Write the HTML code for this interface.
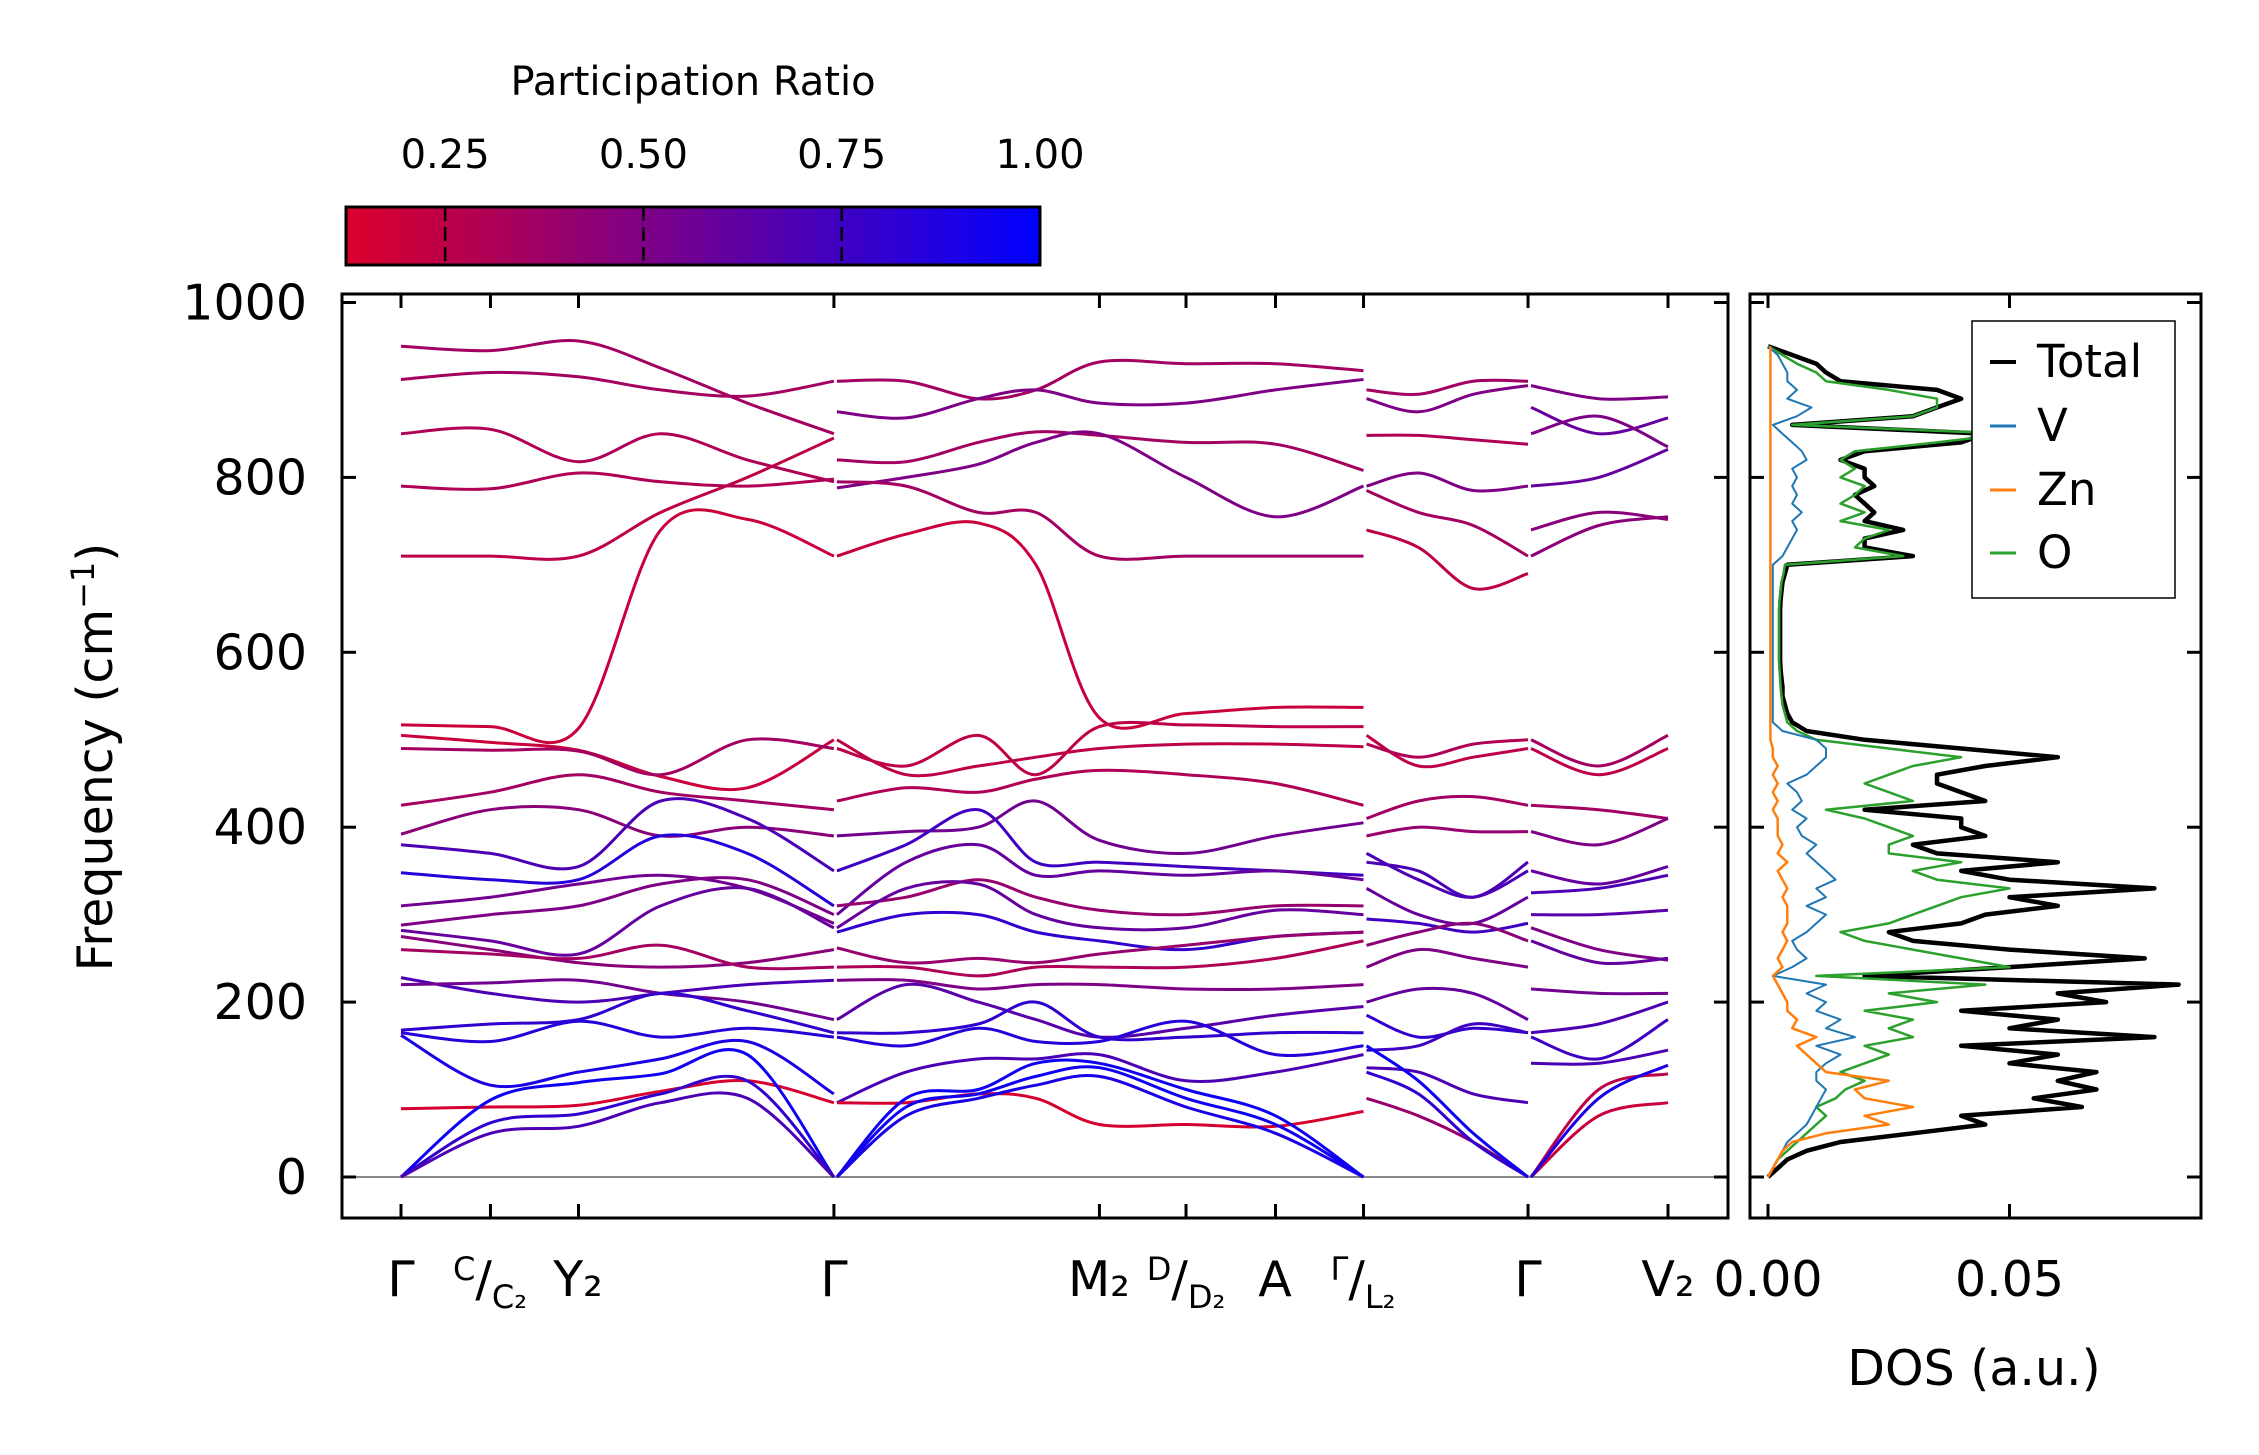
<!DOCTYPE html>
<html><head><meta charset="utf-8">
<style>
html,body{margin:0;padding:0;background:#fff;}
svg{display:block;font-family:"DejaVu Sans","Liberation Sans",sans-serif;}
</style></head>
<body>
<svg id="chart" width="2259" height="1455" viewBox="0 0 2259 1455" xmlns="http://www.w3.org/2000/svg">
<defs>
<linearGradient id="cmap" x1="0" x2="1" y1="0" y2="0">
<stop offset="0" stop-color="rgb(220,0,42)"/>
<stop offset="1" stop-color="rgb(0,0,255)"/>
</linearGradient>
<clipPath id="mainclip"><rect x="342" y="294" width="1386" height="924"/></clipPath>
<clipPath id="dosclip"><rect x="1750" y="294" width="451" height="924"/></clipPath>
</defs>
<g id="colorbar">
<text x="693" y="95" font-size="40" text-anchor="middle">Participation Ratio</text>
<rect x="346" y="207" width="694" height="58" fill="url(#cmap)" stroke="#000" stroke-width="3"/>
</g>
<g id="bands" clip-path="url(#mainclip)"></g>
<g id="dos" clip-path="url(#dosclip)"></g>
<g id="axes"></g>
</svg>
<script>
// ---------- data ----------
const cbTicks = [0.25, 0.50, 0.75, 1.00];
const yTicks = [0, 200, 400, 600, 800, 1000];
const kTicks = [0, 0.62, 1.23, 3.0, 4.84, 5.44, 6.06, 6.67, 7.81, 8.78];
const kSegA = [0, 0.62, 1.23, 1.8, 2.4, 3.0];
const kSegB = [3.0, 3.5, 4.0, 4.4, 4.84, 5.44, 6.06, 6.67];
const kSegC = [6.67, 7.05, 7.43, 7.81];
const kSegD = [7.81, 8.3, 8.78];
const bandsA = [
 [950,945,956,925,885,850],[912,920,915,900,893,910],[850,855,818,850,820,795],
 [790,787,805,795,790,798],[710,710,710,760,800,845],[517,515,513,740,752,710],
 [505,497,488,458,445,500],[490,488,487,460,500,490],[425,440,460,440,430,420],
 [392,420,420,390,400,390],[380,370,355,430,410,350],[348,340,340,390,370,310],
 [310,320,335,345,330,290],[288,300,310,335,340,300],[282,270,255,310,330,285],
 [275,260,245,240,245,260],[260,255,250,265,240,240],[228,210,200,210,220,225],
 [220,222,225,210,200,180],[168,175,180,210,190,165],[165,155,178,160,170,160],
 [162,105,120,135,155,95],[78,80,82,98,110,85],[0,88,108,118,140,0],
 [0,62,72,95,110,0],[0,50,58,85,90,0]
];
const prA = [0.35,0.35,0.3,0.3,0.25,0.2,0.2,0.35,0.35,0.45,0.7,0.85,0.55,0.5,0.6,0.45,0.35,0.7,0.55,0.8,0.85,0.9,0.15,0.95,0.8,0.7];
const bandsB = [
 [910,910,890,900,932,930,930,922],[875,868,890,900,885,885,900,912],
 [820,818,840,852,848,840,838,808],[788,800,815,840,850,800,755,790],
 [795,790,760,760,710,710,710,710],[710,735,748,700,525,530,537,537],
 [490,470,505,460,515,517,515,515],[500,460,470,480,490,495,495,492],
 [430,445,440,455,465,460,450,425],[390,395,400,430,385,370,390,405],
 [350,380,420,360,360,355,350,345],[300,360,380,345,350,345,350,340],
 [310,320,340,320,305,300,310,310],[285,330,335,300,285,285,305,300],
 [280,300,300,280,270,260,275,280],[262,245,250,245,255,265,275,280],
 [240,240,230,240,240,240,250,270],[225,225,215,220,220,215,215,220],
 [180,220,200,180,160,170,185,195],[165,165,175,200,160,160,165,165],
 [160,150,170,155,155,178,140,150],[85,120,135,135,140,110,120,140],
 [85,85,95,90,60,60,58,75],[0,90,100,130,130,100,70,0],
 [0,80,95,115,125,90,60,0],[0,70,90,105,115,80,50,0]
];
const prB = [0.35,0.5,0.35,0.5,0.35,0.2,0.25,0.25,0.3,0.55,0.75,0.6,0.4,0.6,0.8,0.4,0.3,0.5,0.65,0.8,0.85,0.7,0.15,0.95,0.95,0.9];
const bandsC = [
 [900,895,910,910],[890,875,895,905],[848,848,843,838],[790,805,785,790],
 [740,720,673,690],[785,760,745,710],[505,470,480,490],[495,480,495,500],
 [410,430,435,425],[390,400,395,395],[370,340,320,350],[360,350,320,360],
 [330,300,290,320],[295,290,280,290],[265,280,290,270],[240,260,250,240],
 [200,215,210,180],[185,160,170,165],[145,150,175,165],[125,120,95,85],
 [90,70,40,0],[120,95,40,0],[150,110,50,0]
];
const prC = [0.35,0.5,0.3,0.5,0.25,0.35,0.25,0.3,0.35,0.4,0.7,0.7,0.6,0.75,0.45,0.5,0.6,0.8,0.75,0.7,0.4,0.8,0.95];
const bandsD = [
 [905,890,892],[880,850,868],[850,870,835],[790,800,832],[740,760,752],
 [710,745,755],[500,470,505],[490,460,490],[425,420,410],[395,380,410],
 [350,335,355],[325,330,345],[300,300,305],[285,260,248],[270,245,250],
 [215,210,210],[165,175,200],[160,135,180],[130,130,145],[0,100,118],
 [0,70,85],[0,90,128]
];
const prD = [0.5,0.6,0.5,0.6,0.45,0.45,0.35,0.25,0.35,0.5,0.6,0.7,0.65,0.5,0.6,0.55,0.7,0.75,0.7,0.25,0.2,0.9];
const dosFreq = [0,10,20,30,40,50,60,70,80,90,100,110,120,130,140,150,160,170,180,190,200,210,220,230,240,250,260,270,280,290,300,310,320,330,340,350,360,370,380,390,400,410,420,430,440,450,460,470,480,490,500,510,520,530,540,550,560,570,580,590,600,610,620,630,640,650,660,670,680,690,700,710,720,730,740,750,760,770,780,790,800,810,820,830,840,850,860,870,880,890,900,910,920,930,940,950];
const dosTotal = [0,0.002,0.004,0.008,0.015,0.03,0.045,0.04,0.065,0.055,
 0.068,0.06,0.068,0.05,0.06,0.04,0.08,0.05,0.06,0.04,
 0.07,0.06,0.085,0.02,0.05,0.078,0.05,0.03,0.025,0.04,
 0.045,0.06,0.05,0.08,0.05,0.04,0.06,0.035,0.03,0.045,
 0.04,0.04,0.02,0.045,0.04,0.035,0.035,0.045,0.06,0.04,
 0.02,0.008,0.005,0.004,0.0035,0.003,0.003,0.0028,0.0026,0.0025,
 0.0025,0.0025,0.0025,0.0025,0.0025,0.0025,0.0026,0.0028,0.003,0.0035,
 0.004,0.03,0.02,0.02,0.028,0.02,0.022,0.02,0.018,0.022,
 0.02,0.02,0.015,0.02,0.04,0.045,0.005,0.03,0.035,0.04,
 0.035,0.015,0.012,0.01,0.005,0];
const dosO = [0,0.001,0.002,0.004,0.006,0.008,0.01,0.012,0.01,0.014,
 0.016,0.02,0.015,0.02,0.025,0.02,0.03,0.025,0.03,0.02,
 0.035,0.025,0.045,0.01,0.05,0.04,0.03,0.02,0.015,0.025,
 0.03,0.035,0.04,0.05,0.035,0.03,0.04,0.025,0.025,0.03,
 0.025,0.02,0.012,0.03,0.025,0.02,0.025,0.03,0.04,0.025,
 0.01,0.006,0.004,0.0035,0.003,0.0028,0.0026,0.0025,0.0024,0.0023,
 0.0023,0.0023,0.0023,0.0023,0.0023,0.0023,0.0024,0.0026,0.0028,0.0032,
 0.0035,0.028,0.018,0.02,0.025,0.015,0.02,0.015,0.018,0.02,
 0.015,0.018,0.015,0.018,0.035,0.05,0.005,0.03,0.035,0.035,
 0.025,0.012,0.01,0.006,0.003,0];
const dosV = [0,0.001,0.002,0.003,0.004,0.006,0.008,0.009,0.01,0.011,
 0.012,0.01,0.01,0.012,0.015,0.01,0.018,0.012,0.015,0.01,
 0.012,0.008,0.012,0.001,0.005,0.008,0.006,0.005,0.008,0.01,
 0.012,0.008,0.012,0.01,0.014,0.012,0.01,0.008,0.01,0.007,
 0.006,0.008,0.005,0.007,0.006,0.004,0.008,0.01,0.012,0.012,
 0.01,0.003,0.001,0.001,0.001,0.001,0.001,0.001,0.001,0.001,
 0.001,0.001,0.001,0.001,0.001,0.001,0.001,0.001,0.001,0.001,
 0.001,0.003,0.004,0.005,0.006,0.005,0.007,0.005,0.006,0.005,
 0.006,0.005,0.008,0.007,0.005,0.003,0.001,0.006,0.009,0.004,
 0.006,0.004,0.004,0.003,0.002,0];
const dosZn = [0,0.001,0.002,0.003,0.005,0.012,0.025,0.02,0.03,0.02,
 0.018,0.025,0.012,0.01,0.008,0.006,0.01,0.005,0.006,0.004,
 0.004,0.003,0.002,0.001,0.003,0.002,0.003,0.004,0.003,0.004,
 0.004,0.004,0.003,0.004,0.003,0.002,0.004,0.002,0.003,0.002,
 0.002,0.002,0.001,0.002,0.001,0.002,0.001,0.002,0.001,0.001,
 0.0005,0.0005,0.0005,0.0005,0.0005,0.0005,0.0005,0.0005,0.0005,0.0005,
 0.0005,0.0005,0.0005,0.0005,0.0005,0.0005,0.0005,0.0005,0.0005,0.0005,
 0.0005,0.0005,0.0005,0.0005,0.0005,0.0005,0.0005,0.0005,0.0005,0.0005,
 0.0005,0.0005,0.0005,0.0005,0.0005,0.0005,0.0005,0.0005,0.0005,0.0005,
 0.0005,0.0005,0.0005,0.0005,0.0005,0.0005];
const dosTicks = [0.00, 0.05];

// ---------- scales ----------
const NS='http://www.w3.org/2000/svg';
const yS = f => 1177 - f*0.8745;
const kS = k => 401 + (k/8.78)*(1668-401);
const dS = d => 1768 + d*4830;
const cbS = v => 346 + (v-0.125)/(0.875)*694;
function prColor(p){const t=Math.max(0,Math.min(1,(p-0.125)/0.875));return `rgb(${Math.round(220*(1-t))},0,${Math.round(42+213*t)})`;}
function mk(tag,attrs,parent){const e=document.createElementNS(NS,tag);for(const a in attrs)e.setAttribute(a,attrs[a]);parent.appendChild(e);return e;}
function smooth(pts){let d=`M${pts[0][0].toFixed(1)},${pts[0][1].toFixed(1)}`;
 for(let i=0;i<pts.length-1;i++){const p0=pts[i-1]||pts[i],p1=pts[i],p2=pts[i+1],p3=pts[i+2]||p2;
  const c1=[p1[0]+(p2[0]-p0[0])/6,p1[1]+(p2[1]-p0[1])/6],c2=[p2[0]-(p3[0]-p1[0])/6,p2[1]-(p3[1]-p1[1])/6];
  d+=` C${c1[0].toFixed(1)},${c1[1].toFixed(1)} ${c2[0].toFixed(1)},${c2[1].toFixed(1)} ${p2[0].toFixed(1)},${p2[1].toFixed(1)}`;}
 return d;}

const gB=document.getElementById('bands'), gD=document.getElementById('dos'), gA=document.getElementById('axes'), gC=document.getElementById('colorbar');

cbTicks.forEach(v=>{const x=cbS(v);
 if(v<1){const l=mk('line',{x1:x,x2:x,y1:207,y2:265,stroke:'#000','stroke-width':2.5,'stroke-dasharray':'14,6'},gC);
 
 }
 const t=mk('text',{x:x,y:168,'font-size':40,'text-anchor':'middle'},gC);t.textContent=v.toFixed(2);
 
 });

const zl=mk('line',{x1:342,x2:1728,y1:yS(0),y2:yS(0),stroke:'#888','stroke-width':2},gB);



[[kSegA,bandsA,prA],[kSegB,bandsB,prB],[kSegC,bandsC,prC],[kSegD,bandsD,prD]].forEach(([ks,bs,prs],si)=>{
 bs.forEach((b,i)=>{const pts=b.map((f,j)=>[kS(ks[j])+(j==0&&si>0?3:0),yS(f)]);
  const p=mk('path',{d:smooth(pts),fill:'none',stroke:prColor(prs[i]),'stroke-width':3},gB);
  
  });});

[[dosTotal,'#000',4.5,'dos-total'],[dosO,'#2ca02c',2.5,'dos-o'],[dosV,'#1f77b4',2,'dos-v'],[dosZn,'#ff7f0e',2.5,'dos-zn']].forEach(([arr,c,w,n])=>{
 const d=arr.map((v,i)=>(i?'L':'M')+dS(v).toFixed(1)+','+yS(dosFreq[i]).toFixed(1)).join(' ');
 const p=mk('path',{d:d,fill:'none',stroke:c,'stroke-width':w,'stroke-linejoin':'round'},gD);
 
 });

const f1=mk('rect',{x:342,y:294,width:1386,height:924,fill:'none',stroke:'#000','stroke-width':3},gA);


const f2=mk('rect',{x:1750,y:294,width:451,height:924,fill:'none',stroke:'#000','stroke-width':3},gA);



yTicks.forEach(v=>{const y=yS(v);
 [[342,356],[1714,1728],[1750,1764],[2187,2201]].forEach(([a,b])=>{const l=mk('line',{x1:a,x2:b,y1:y,y2:y,stroke:'#000','stroke-width':3},gA);
  
  });
 const t=mk('text',{x:307,y:y+17,'font-size':49,'text-anchor':'end'},gA);t.textContent=v;
 
 });

kTicks.forEach(k=>{const x=kS(k);
 [[1218,1204],[294,308]].forEach(([a,b])=>{const l=mk('line',{x1:x,x2:x,y1:a,y2:b,stroke:'#000','stroke-width':3},gA);
  
  });});
dosTicks.forEach(v=>{const x=dS(v);
 [[1218,1204],[294,308]].forEach(([a,b])=>{const l=mk('line',{x1:x,x2:x,y1:a,y2:b,stroke:'#000','stroke-width':3},gA);
  
  });
 const t=mk('text',{x:x,y:1296,'font-size':49,'text-anchor':'middle'},gA);t.textContent=v.toFixed(2);
 
 });
</script>
<script>
const ax=document.getElementById('axes');
ax.insertAdjacentHTML('beforeend',`
<g font-size="49">
<text x="401" y="1296" text-anchor="middle">Γ</text>
<text x="490" y="1296" text-anchor="middle"><tspan font-size="32" dy="-16">C</tspan><tspan dy="16">/</tspan><tspan font-size="32" dy="12">C₂</tspan></text>
<text x="578" y="1296" text-anchor="middle">Y₂</text>
<text x="834" y="1296" text-anchor="middle">Γ</text>
<text x="1099" y="1296" text-anchor="middle">M₂</text>
<text x="1186" y="1296" text-anchor="middle"><tspan font-size="32" dy="-16">D</tspan><tspan dy="16">/</tspan><tspan font-size="32" dy="12">D₂</tspan></text>
<text x="1275" y="1296" text-anchor="middle">A</text>
<text x="1363" y="1296" text-anchor="middle"><tspan font-size="32" dy="-16">Γ</tspan><tspan dy="16">/</tspan><tspan font-size="32" dy="12">L₂</tspan></text>
<text x="1528" y="1296" text-anchor="middle">Γ</text>
<text x="1668" y="1296" text-anchor="middle">V₂</text>
</g>
<text x="0" y="0" font-size="49" text-anchor="middle" transform="translate(112,757) rotate(-90)">Frequency (cm<tspan font-size="32" dy="-18">−1</tspan><tspan dy="18">)</tspan></text>
<text x="1974" y="1385" font-size="49" text-anchor="middle">DOS (a.u.)</text>
<g>
<rect x="1972" y="321" width="203" height="277" fill="#fff" stroke="#000" stroke-width="1.5"/>
<line x1="1990" x2="2016" y1="362" y2="362" stroke="#000" stroke-width="4"/>
<text x="2037" y="377" font-size="45">Total</text>
<line x1="1990" x2="2016" y1="426" y2="426" stroke="#1f77b4" stroke-width="3"/>
<text x="2037" y="441" font-size="45">V</text>
<line x1="1990" x2="2016" y1="490" y2="490" stroke="#ff7f0e" stroke-width="3"/>
<text x="2037" y="505" font-size="45">Zn</text>
<line x1="1990" x2="2016" y1="553" y2="553" stroke="#2ca02c" stroke-width="3"/>
<text x="2037" y="568" font-size="45">O</text>
</g>`);
</script>
</body></html>
